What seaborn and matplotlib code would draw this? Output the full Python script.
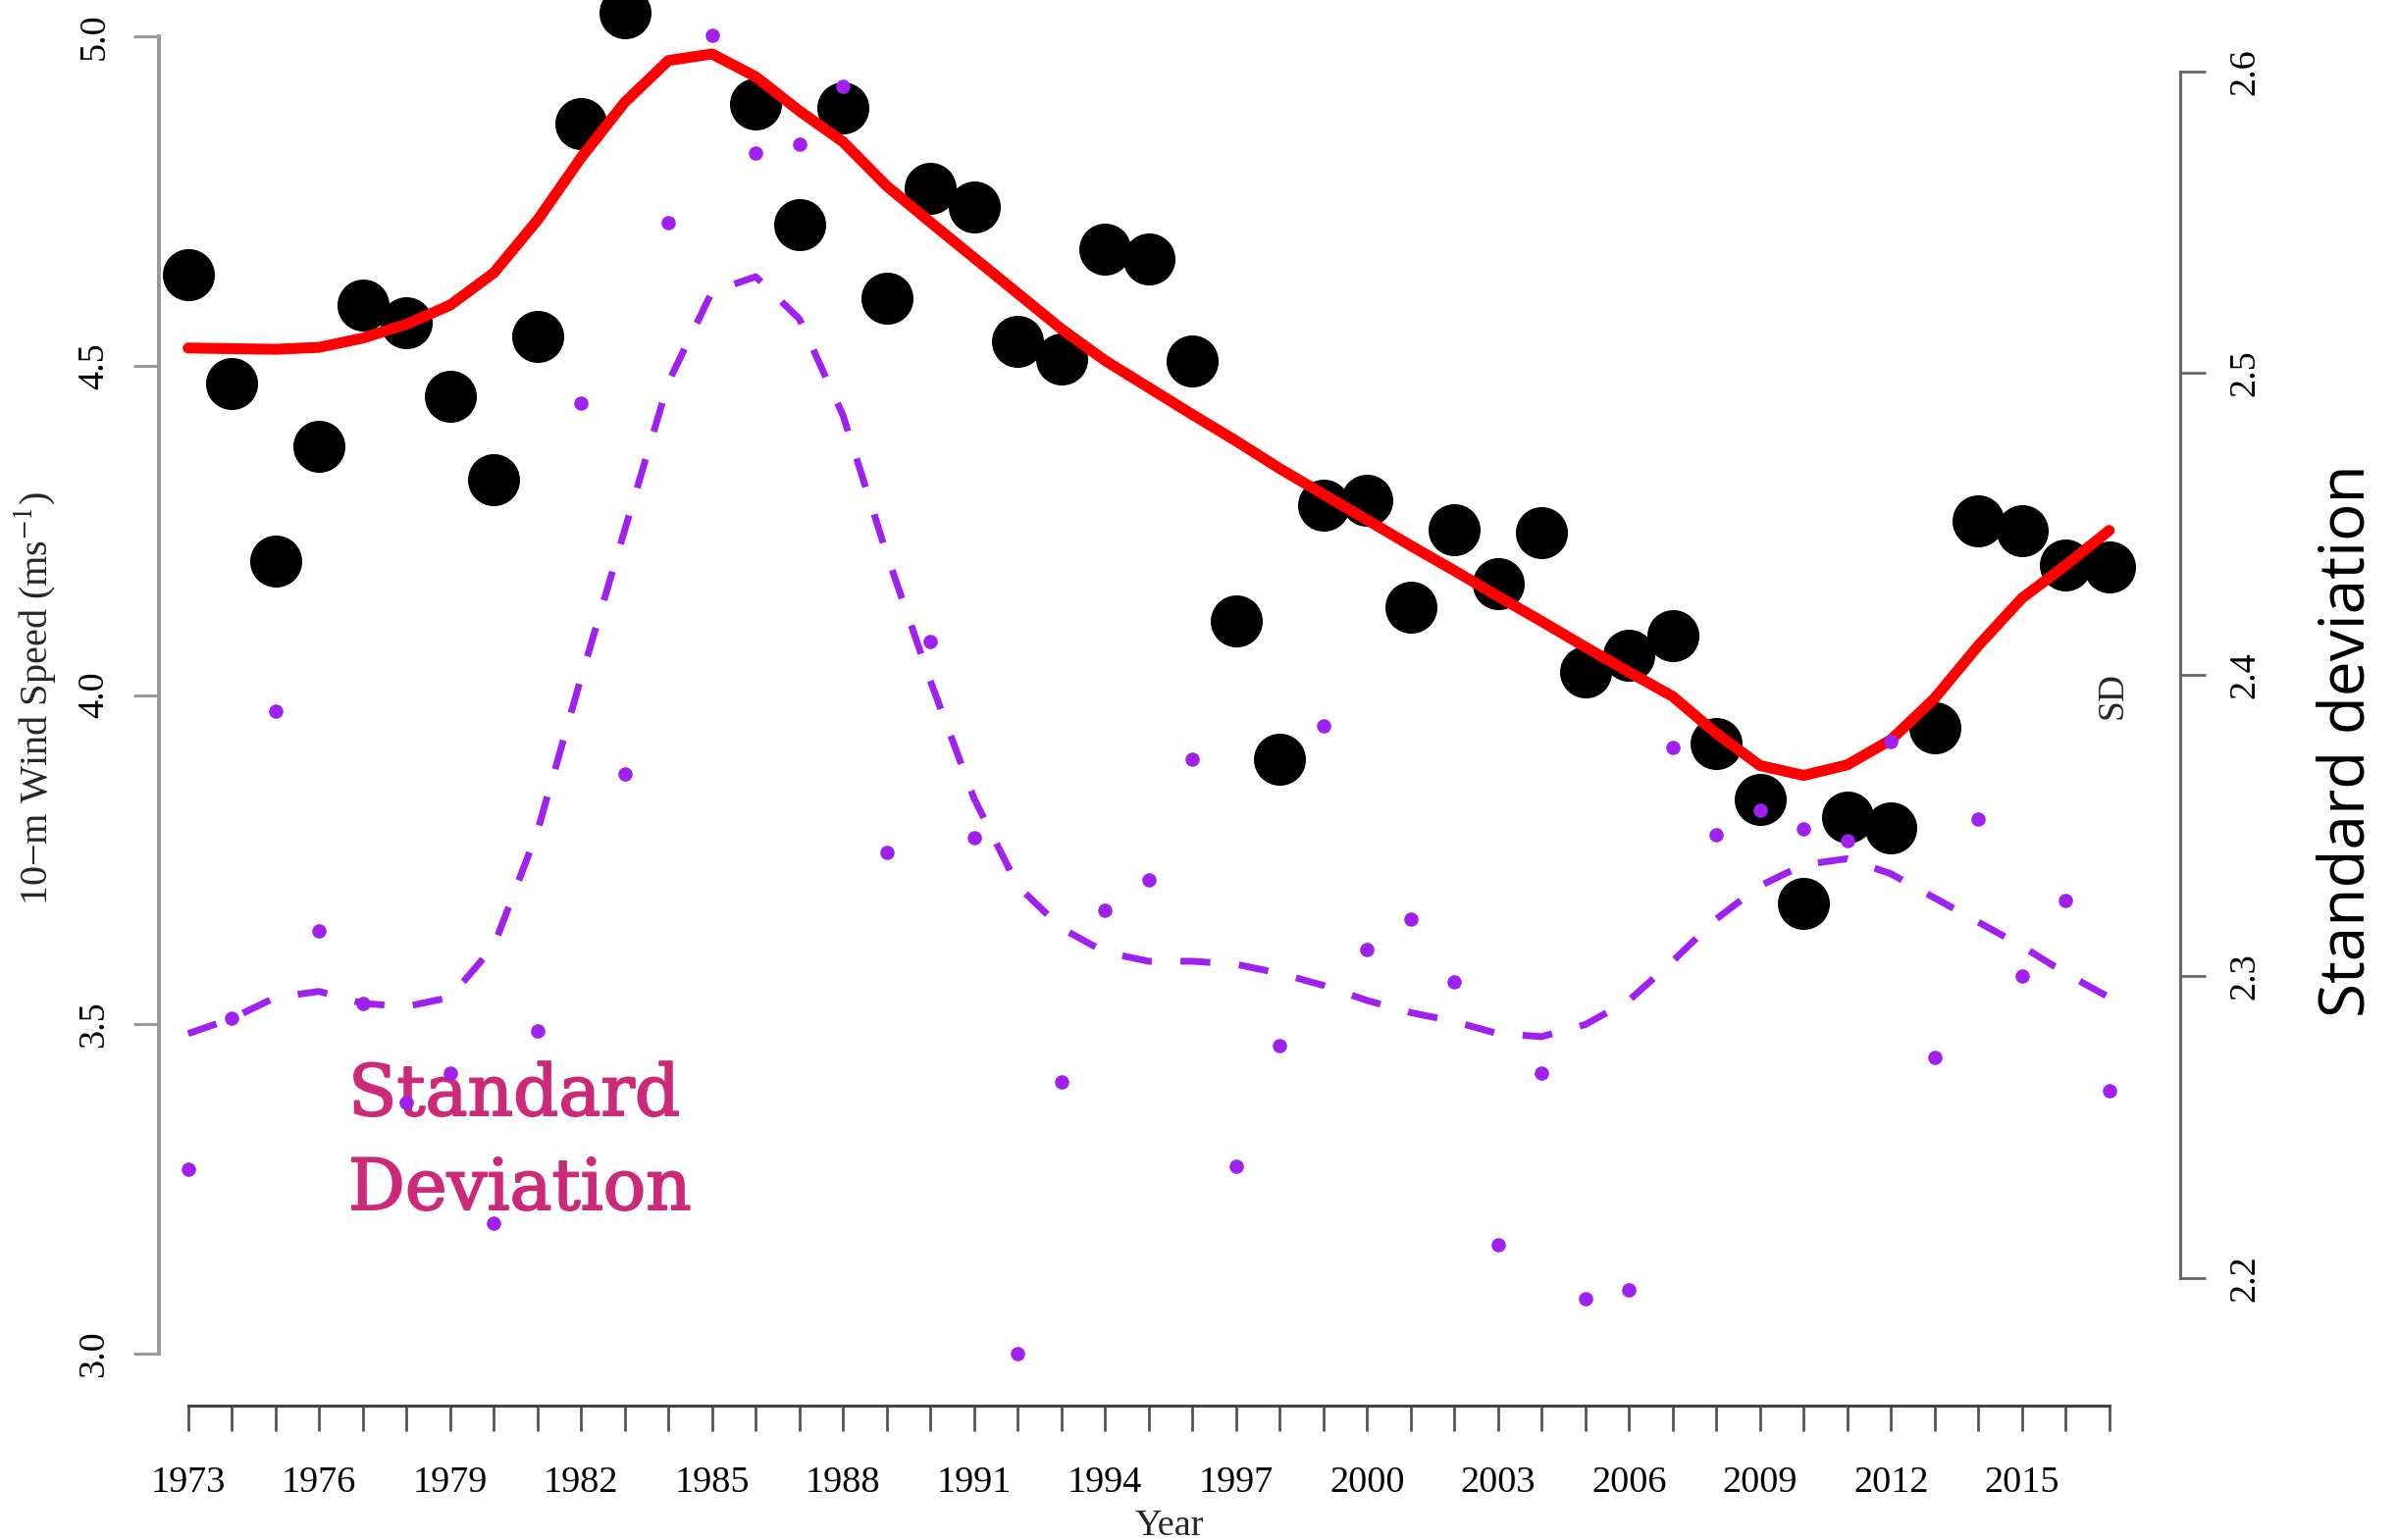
import matplotlib
matplotlib.use("Agg")
import matplotlib.pyplot as plt
import matplotlib.patheffects as pe
import pandas as pd
import seaborn as sns

# ---- data -----------------------------------------------------------------
years = list(range(1973, 2018))

# annual mean 10-m wind speed (m/s)
wind_speed = [4.639, 4.473, 4.203, 4.378, 4.592, 4.565, 4.453, 4.327, 4.545, 4.868,
              5.036, 5.150, 5.120, 4.898, 4.715, 4.892, 4.602, 4.770, 4.741, 4.537,
              4.511, 4.677, 4.662, 4.507, 4.113, 3.902, 4.289, 4.296, 4.133, 4.251,
              4.169, 4.246, 4.035, 4.060, 4.090, 3.927, 3.841, 3.683, 3.814, 3.798,
              3.950, 4.265, 4.250, 4.197, 4.195]

# smoothed wind speed
wind_smooth = [4.527, 4.526, 4.525, 4.528, 4.542, 4.563, 4.592, 4.641, 4.721, 4.816,
               4.900, 4.9635, 4.9735, 4.939, 4.887, 4.840, 4.773, 4.718, 4.664, 4.610,
               4.556, 4.508, 4.467, 4.426, 4.386, 4.344, 4.305, 4.266, 4.227, 4.189,
               4.150, 4.112, 4.073, 4.035, 3.998, 3.942, 3.893, 3.878, 3.894, 3.932,
               3.995, 4.075, 4.147, 4.197, 4.250]

# annual standard deviation of wind speed
sd_values = [2.236, 2.286, 2.388, 2.315, 2.291, 2.258, 2.268, 2.218, 2.282, 2.490,
             2.367, 2.550, 2.612, 2.573, 2.576, 2.595, 2.341, 2.411, 2.346, 2.175,
             2.265, 2.322, 2.332, 2.372, 2.237, 2.277, 2.383, 2.309, 2.319, 2.298,
             2.211, 2.268, 2.193, 2.196, 2.376, 2.347, 2.355, 2.349, 2.345, 2.378,
             2.273, 2.352, 2.300, 2.325, 2.262]

# smoothed standard deviation
sd_smooth = [2.281, 2.286, 2.293, 2.295, 2.291, 2.290, 2.293, 2.310, 2.348, 2.399,
             2.448, 2.497, 2.527, 2.532, 2.518, 2.486, 2.440, 2.398, 2.359, 2.330,
             2.316, 2.308, 2.305, 2.305, 2.304, 2.301, 2.297, 2.292, 2.288, 2.285,
             2.281, 2.280, 2.284, 2.292, 2.305, 2.319, 2.330, 2.337, 2.339, 2.334,
             2.326, 2.318, 2.310, 2.301, 2.293]

year_labels = list(range(1973, 2016, 3))
wind_ticks = [3.0, 3.5, 4.0, 4.5, 5.0]
sd_ticks = [2.2, 2.3, 2.4, 2.5, 2.6]

df = pd.DataFrame({"year": years, "wind": wind_speed, "wind_smooth": wind_smooth,
                   "sd": sd_values, "sd_smooth": sd_smooth})

# ---- style ----------------------------------------------------------------
sns.set_theme(style="white")
plt.rcParams["font.family"] = ["Liberation Serif", "DejaVu Serif"]
plt.rcParams["mathtext.fontset"] = "stix"

PURPLE = "#A020F0"
MAGENTA = "#CC2A78"
TICK_FS = 27.5
W, H = 2443, 1570
fig = plt.figure(figsize=(W / 100, H / 100), dpi=100)
ax = fig.add_axes([161.5 / W, (H - 1433) / H, (2222 - 161.5) / W, 1433 / H])
ax.patch.set_alpha(0)

# wind speed: points + smooth
sns.scatterplot(data=df, x="year", y="wind", s=1460, color="black",
                linewidth=0, ax=ax, zorder=2)
sns.lineplot(data=df, x="year", y="wind_smooth", color="red", linewidth=8.0,
             estimator=None, ax=ax, zorder=3)

# annotation under the SD markers
for word, base in (("Standard", 1137), ("Deviation", 1233)):
    ax.text(355 / W, 1 - base / H, word, transform=fig.transFigure,
            family="DejaVu Serif", fontsize=52, color=MAGENTA,
            ha="left", va="baseline", zorder=1,
            path_effects=[pe.withStroke(linewidth=1.4, foreground=MAGENTA)])

# standard deviation on the secondary axis
ax2 = ax.twinx()
sns.lineplot(data=df, x="year", y="sd_smooth", color=PURPLE, linewidth=5.0,
             estimator=None, ax=ax2, zorder=2)
ax2.lines[-1].set_dashes([4.4, 4.2])
sns.scatterplot(data=df, x="year", y="sd", s=110, color=PURPLE,
                linewidth=0, ax=ax2, zorder=3)

# ---- scales ---------------------------------------------------------------
ax.set_xlim(1972.321, 2018.625)
ax.set_ylim(2.9211, 5.0554)
ax2.set_ylim(2.15765, 2.62374)

for a in (ax, ax2):
    a.grid(False)
    a.set_xlabel("")
    a.set_ylabel("")
    for s in a.spines.values():
        s.set_visible(False)

ax.spines["left"].set_visible(True)
ax.spines["left"].set_bounds(3.0, 5.0)
ax.spines["left"].set_color("#9a9a9a")
ax.spines["left"].set_linewidth(2.9)
ax.spines["bottom"].set_visible(True)
ax.spines["bottom"].set_bounds(1973, 2017)
ax.spines["bottom"].set_color("#444444")
ax.spines["bottom"].set_linewidth(2.2)
ax2.spines["right"].set_visible(True)
ax2.spines["right"].set_bounds(2.2, 2.6)
ax2.spines["right"].set_color("#666666")
ax2.spines["right"].set_linewidth(2.2)

ax.set_xticks(years)
ax.set_xticklabels([str(y) if y in year_labels else "" for y in years])
ax.tick_params(axis="x", bottom=True, direction="out", length=18.5, width=2.0,
               color="#555555", pad=26, labelsize=TICK_FS, labelcolor="black")

ax.set_yticks(wind_ticks)
ax.set_yticklabels([f"{v:.1f}" for v in wind_ticks])
ax.tick_params(axis="y", left=True, right=False, direction="out", length=18.5,
               width=2.2, color="#9a9a9a", pad=16, labelsize=TICK_FS,
               labelcolor="black", labelrotation=90)
for lbl in ax.get_yticklabels():
    lbl.set_va("center")

ax2.set_yticks(sd_ticks)
ax2.set_yticklabels([f"{v:.1f}" for v in sd_ticks])
ax2.tick_params(axis="y", right=True, left=False, direction="out", length=18.5,
                width=2.0, color="#666666", pad=17, labelsize=TICK_FS,
                labelcolor="black", labelrotation=90)
for lbl in ax2.get_yticklabels():
    lbl.set_va("center")
ax2.tick_params(axis="x", bottom=False, labelbottom=False)

# ---- labels ---------------------------------------------------------------
fig.text(36 / W, 1 - 712 / H, "10\u2212m Wind Speed (ms$^{-1}$)", rotation=90,
         ha="center", va="center", fontsize=29)
fig.text(1192 / W, 5 / H, "Year", ha="center", va="baseline", fontsize=TICK_FS)
fig.text(2153 / W, 1 - 709 / H, "SD", rotation=90, ha="center", va="center",
         fontsize=27)
fig.text(2410 / W, 1 - 755 / H, "Standard deviation", rotation=90,
         rotation_mode="anchor", ha="center", va="baseline",
         family="Open Sans", fontsize=46, color="black")

fig.savefig("out.png", dpi=100)
